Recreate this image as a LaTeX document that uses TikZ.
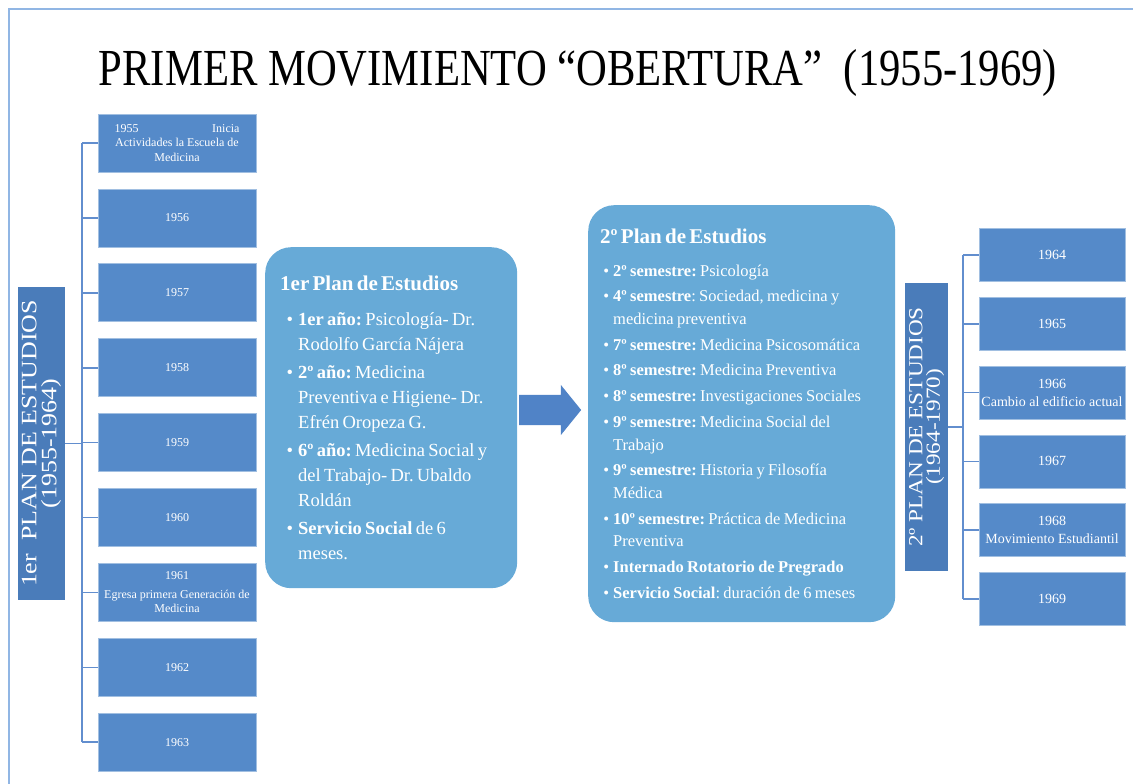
\documentclass[tikz,border=0pt]{standalone}
\usepackage{fontspec}
\setmainfont{Liberation Serif}
\usepackage{enumitem}
\usetikzlibrary{shapes.arrows,positioning}
\frenchspacing

\definecolor{yearblue}{RGB}{85,138,201}
\definecolor{labelblue}{RGB}{74,124,186}
\definecolor{planblue}{RGB}{103,170,215}
\definecolor{arrowblue}{RGB}{80,131,199}
\definecolor{lineblue}{RGB}{98,142,206}
\definecolor{frameblue}{RGB}{145,182,228}

\newcommand{\fs}[2]{\fontsize{#1}{#2}\selectfont}
\newcommand{\wide}[2]{\scalebox{#1}[1]{#2}}

\begin{document}
\begin{tikzpicture}[x=1pt, y=-1pt,
	yearbox/.style={rectangle, fill=yearblue, draw=yearblue!55!white, line width=0.8pt, text=white, align=center, inner sep=1pt},
	labelbox/.style={rectangle, fill=labelblue, text=white, align=center, rotate=90, inner sep=0pt},
	planbox/.style={rectangle, rounded corners=26pt, fill=planblue, text=white, align=left, anchor=north west, inner ysep=0pt},
	tree/.style={draw=lineblue, line width=1.6pt}]
	\useasboundingbox (0,0) rectangle (1133,784);
	\draw[frameblue, line width=1.5pt] (9,790) -- (9,9) -- (1140,9);

	\node (title) at (578,73) {\fs{52}{60}\wide{0.82}{PRIMER MOVIMIENTO “OBERTURA”\ \ (1955-1969)}};

	% 1er plan: years
	\foreach \i/\txt in {1/{\makebox[125pt]{1955\hfill Inicia}\\Actividades la Escuela de\\Medicina},
		2/1956, 3/1957, 4/1958, 5/1959, 6/1960,
		7/{1961\\[4pt]Egresa primera Generación de\\Medicina},
		8/1962, 9/1963}
		\node[yearbox, minimum width=158pt, minimum height=58pt, font=\fs{12}{14.5}] (y\i) at ({177},{143+(\i-1)*74.9}) {\txt};
	\node[labelbox, minimum width=313pt, minimum height=47pt, font=\fs{22}{20}] (plan1) at (41.5,443.5) {\wide{1.18}{1er\ \ PLAN DE ESTUDIOS}\\\wide{1.18}{(1955-1964)}};
	\coordinate (lspine) at (82,0);
	\foreach \i in {1,...,9}
		\draw[tree] (y\i.west) -- (y\i.west -| lspine);
	\draw[tree] (y1.west -| lspine) -- (y9.west -| lspine);
	\draw[tree] (plan1.south) -- (plan1.south -| lspine);

	% plan boxes
	\node[planbox, text width=222pt, inner xsep=15pt, minimum height=341pt] (plan1box) at (265,247) {%
		{\fs{21}{25}\bfseries 1er Plan de Estudios}\par
		\fs{18.5}{25}
		\begin{itemize}[leftmargin=18pt, labelsep=5pt, labelwidth=8pt, itemsep=3pt, parsep=0pt, topsep=10pt, partopsep=0pt]
			\item \textbf{1er año:} Psicología- Dr.\newline Rodolfo García Nájera
			\item \textbf{2º año:} Medicina\newline Preventiva e Higiene- Dr.\newline Efrén Oropeza G.
			\item \textbf{6º año:} Medicina Social y\newline del Trabajo- Dr. Ubaldo\newline Roldán
			\item \textbf{Servicio Social} de 6\newline meses.
		\end{itemize}};
	\node[single arrow, fill=arrowblue, minimum height=62pt, inner xsep=0pt, inner ysep=15pt, single arrow head extend=10pt, single arrow tip angle=102] (arrow) at (544,410) {};
	\node[planbox, text width=283pt, inner xsep=12pt, minimum height=417pt] (plan2box) at (588,205) {%
		{\fs{21}{25}\bfseries 2º Plan de Estudios}\par
		\fs{16.5}{22.5}
		\begin{itemize}[leftmargin=13pt, labelsep=4pt, labelwidth=6pt, itemsep=3.3pt, parsep=0pt, topsep=10pt, partopsep=0pt]
			\item \textbf{2º semestre:} Psicología
			\item \textbf{4º semestre}: Sociedad, medicina y\newline medicina preventiva
			\item \textbf{7º semestre:} Medicina Psicosomática
			\item \textbf{8º semestre:} Medicina Preventiva
			\item \textbf{8º semestre:} Investigaciones Sociales
			\item \textbf{9º semestre:} Medicina Social del\newline Trabajo
			\item \textbf{9º semestre:} Historia y Filosofía\newline Médica
			\item \textbf{10º semestre:} Práctica de Medicina\newline Preventiva
			\item \textbf{Internado Rotatorio de Pregrado}
			\item \textbf{Servicio Social}: duración de 6 meses
		\end{itemize}};

	% 2o plan: years
	\foreach \i/\txt in {1/1964, 2/1965, 3/{1966\\Cambio al edificio actual}, 4/1967,
		5/{1968\\Movimiento Estudiantil}, 6/1969}
		\node[yearbox, minimum width=146pt, minimum height=53pt, font=\fs{14}{18}] (z\i) at ({1052},{255+(\i-1)*68.8}) {\txt};
	\node[labelbox, minimum width=288pt, minimum height=43pt, font=\fs{20}{17.5}] (plan2) at (926.5,427) {\wide{1.16}{2º PLAN DE ESTUDIOS}\\\wide{1.16}{(1964-1970)}};
	\coordinate (rspine) at (963,0);
	\foreach \i in {1,...,6}
		\draw[tree] (z\i.west) -- (z\i.west -| rspine);
	\draw[tree] (z1.west -| rspine) -- (z6.west -| rspine);
	\draw[tree] (plan2.south) -- (plan2.south -| rspine);
\end{tikzpicture}
\end{document}
